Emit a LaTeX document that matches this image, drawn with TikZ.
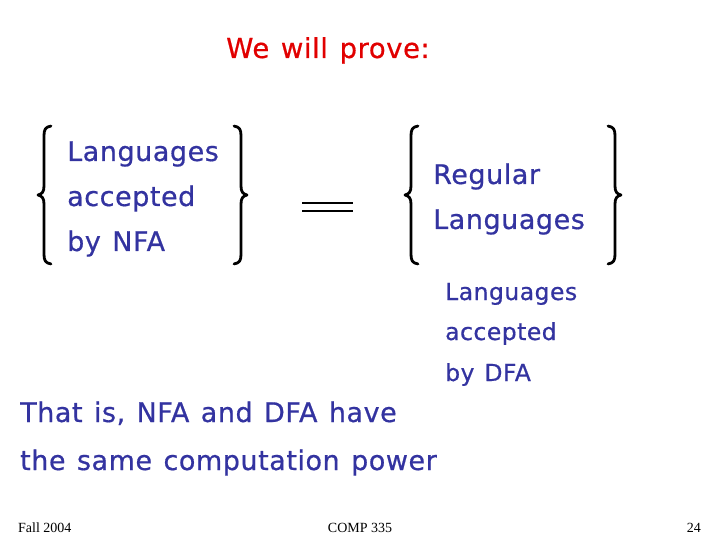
\documentclass[tikz,border=0pt]{standalone}
\usepackage{fontspec}
\setmainfont{DejaVu Sans}[LetterSpace=2,WordSpace=1.25,FakeBold=0.6]
\newfontfamily\footfont{Liberation Serif}
\definecolor{txtblue}{RGB}{51,51,160}
\definecolor{titlered}{RGB}{225,0,0}
\begin{document}
\begin{tikzpicture}[x=1pt,y=-1pt,
  bigtxt/.style={anchor=base west,inner sep=0pt,text=txtblue,font=\fontsize{27}{27}\selectfont},
  smalltxt/.style={anchor=base west,inner sep=0pt,text=txtblue,font=\fontsize{23.5}{23.5}\selectfont},
  foottxt/.style={inner sep=0pt,font=\footfont\fontsize{14}{14}\selectfont},
  bracestyle/.style={line width=2.8pt,line cap=round,line join=round}]
\useasboundingbox (0,0) rectangle (720,540);
% title
\node[anchor=base,inner sep=0pt,text=titlered,font=\fontsize{27.5}{27.5}\selectfont] (title) at (328,58) {We will prove:};
% left set
\node[bigtxt] (l1) at (67,161) {Languages};
\node[bigtxt] (l2) at (67,206) {accepted};
\node[bigtxt] (l3) at (67,251) {by NFA};
% right set
\node[bigtxt] (r1) at (433,184) {Regular};
\node[bigtxt] (r2) at (433,229) {Languages};
% DFA label
\node[smalltxt] (d1) at (445,300) {Languages};
\node[smalltxt] (d2) at (445,340) {accepted};
\node[smalltxt] (d3) at (445,381) {by DFA};
% bottom statement
\node[bigtxt] (s1) at (20,422) {That is, NFA and DFA have};
\node[bigtxt] (s2) at (20,470) {the same computation power};
% braces
\draw[bracestyle] (51,126) .. controls (45,127) and (44,130) .. (44,136) -- (44,186) .. controls (44,192) and (42,194) .. (38,195) .. controls (42,196) and (44,198) .. (44,204) -- (44,254) .. controls (44,260) and (45,263) .. (51,264);
\draw[bracestyle] (234,126) .. controls (240,127) and (241,130) .. (241,136) -- (241,186) .. controls (241,192) and (243,194) .. (247,195) .. controls (243,196) and (241,198) .. (241,204) -- (241,254) .. controls (241,260) and (240,263) .. (234,264);
\draw[bracestyle] (418,126) .. controls (412,127) and (411,130) .. (411,136) -- (411,186) .. controls (411,192) and (409,194) .. (405,195) .. controls (409,196) and (411,198) .. (411,204) -- (411,254) .. controls (411,260) and (412,263) .. (418,264);
\draw[bracestyle] (608,126) .. controls (614,127) and (615,130) .. (615,136) -- (615,186) .. controls (615,192) and (617,194) .. (621,195) .. controls (617,196) and (615,198) .. (615,204) -- (615,254) .. controls (615,260) and (614,263) .. (608,264);
% equals sign
\coordinate (eqa) at (302,203);
\coordinate (eqb) at (353,203);
\coordinate (eqc) at (302,211);
\coordinate (eqd) at (353,211);
\draw[line width=2.8pt] (eqa) -- (eqb);
\draw[line width=2.8pt] (eqc) -- (eqd);
% footer
\node[foottxt,anchor=base west] (f1) at (18,532) {Fall 2004};
\node[foottxt,anchor=base] (f2) at (360,532) {COMP 335};
\node[foottxt,anchor=base east] (f3) at (701,532) {24};
\end{tikzpicture}
\end{document}
